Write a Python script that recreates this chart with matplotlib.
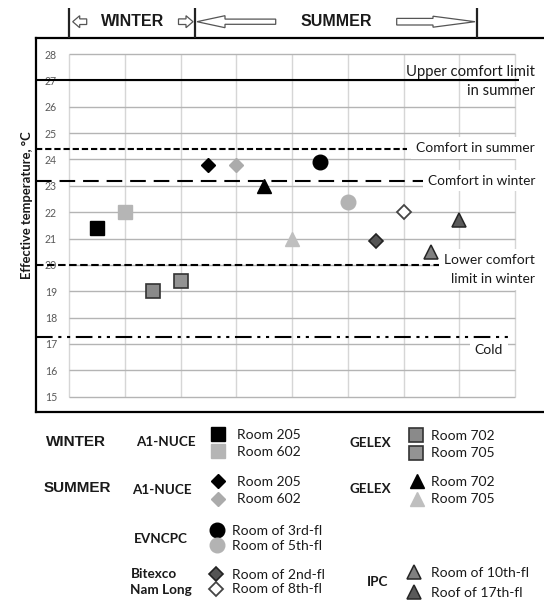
import matplotlib
matplotlib.use("Agg")
import matplotlib.pyplot as plt
from matplotlib.patches import Polygon

# ---------------- data ----------------
seasons = ["WINTER", "WINTER", "WINTER", "WINTER",
           "SUMMER", "SUMMER", "SUMMER", "SUMMER", "SUMMER", "SUMMER",
           "SUMMER", "SUMMER", "SUMMER", "SUMMER"]
buildings = ["A1-NUCE", "A1-NUCE", "GELEX", "GELEX",
             "A1-NUCE", "A1-NUCE", "GELEX", "GELEX", "EVNCPC", "EVNCPC",
             "Bitexco\nNam Long", "Bitexco\nNam Long", "IPC", "IPC"]
rooms = ["Room 205", "Room 602", "Room 702", "Room 705",
         "Room 205", "Room 602", "Room 702", "Room 705",
         "Room of 3rd-fl", "Room of 5th-fl", "Room of 2nd-fl", "Room of 8th-fl",
         "Room of 10th-fl", "Roof of 17th-fl"]
slot = [0.5, 1.0, 1.5, 2.0, 2.5, 3.0, 3.5, 4.0, 4.5, 5.0, 5.5, 6.0, 6.5, 7.0]
eff_temp = [21.4, 22.0, 19.0, 19.4, 23.8, 23.8, 23.0, 21.0, 23.9, 22.4,
            20.9, 22.0, 20.5, 21.7]

ref_labels = ["Upper comfort limit\nin summer", "Comfort in summer",
              "Comfort in winter", "Lower comfort\nlimit in winter", "Cold"]
ref_values = [27.0, 24.4, 23.2, 20.0, 17.25]

y_ticks = list(range(15, 29))
x_slots = list(range(0, 9))
season_headers = ["WINTER", "SUMMER"]
y_title = "Effective temperature, \u00b0C"

# ---------------- styles ----------------
plt.rcParams['font.family'] = ['Lato', 'DejaVu Sans']
point_styles = [
    dict(marker='s', ms=10, mfc='black', mec='black'),
    dict(marker='s', ms=10, mfc='#b5b5b5', mec='#b5b5b5'),
    dict(marker='s', ms=10, mfc='#8a8a8a', mec='#333333', mew=1.2),
    dict(marker='s', ms=10, mfc='#939393', mec='#333333', mew=1.2),
    dict(marker='D', ms=7, mfc='black', mec='black'),
    dict(marker='D', ms=7, mfc='#ababab', mec='#ababab'),
    dict(marker='^', ms=9.8, mfc='black', mec='black'),
    dict(marker='^', ms=9.8, mfc='#bfbfbf', mec='#bfbfbf'),
    dict(marker='o', ms=10.5, mfc='black', mec='black'),
    dict(marker='o', ms=10.5, mfc='#b3b3b3', mec='#b3b3b3'),
    dict(marker='D', ms=7, mfc='#555555', mec='#222222', mew=1.2),
    dict(marker='D', ms=7, mfc='white', mec='#444444', mew=1.3),
    dict(marker='^', ms=9.8, mfc='#808080', mec='#262626', mew=1.1),
    dict(marker='^', ms=9.8, mfc='#5a5a5a', mec='#262626', mew=1.1),
]
ref_styles = [
    dict(ls='-', lw=1.5, end=8.07, lab_x=8.36, ha='right', offs=[0.33, -0.40], box=False, fs=10.7),
    dict(ls=(0, (3.0, 1.4)), lw=1.5, end=6.06, lab_x=8.36, ha='right', offs=[0.03], box=True, fs=10),
    dict(ls=(0, (7.5, 3.8)), lw=1.5, end=6.47, lab_x=8.36, ha='right', offs=[0.0], box=True, fs=9.8),
    dict(ls=(0, (3.6, 1.7)), lw=1.5, end=6.69, lab_x=8.36, ha='right', offs=[0.18, -0.55], box=True, fs=10),
    dict(ls=(0, (8, 2.7, 1.5, 2.7, 1.5, 2.7)), lw=1.5, end=7.97, lab_x=7.53, ha='center', offs=[-0.48], box=True, fs=10),
]

# ---------------- layout (pixels) ----------------
W, H = 544, 603
X0PX, XUNIT = 69.0, 55.75
Y28PX, YUNIT = 54.0, 26.36
FL, FT, FB = 35.7, 37.5, 411.7

fig = plt.figure(figsize=(W / 100, H / 100), dpi=100)
ax = fig.add_axes([FL / W, 1 - FB / H, (W - FL) / W, (FB - FT) / H])
ax.set_xlim((FL - X0PX) / XUNIT, (W - X0PX) / XUNIT)
ax.set_ylim(28 - (FB - Y28PX) / YUNIT, 28 + (Y28PX - FT) / YUNIT)
for s in ['left', 'top', 'bottom']:
    ax.spines[s].set_linewidth(1.6)
    ax.spines[s].set_color('black')
ax.spines['right'].set_visible(False)
ax.set_xticks([])
ax.set_yticks(y_ticks)
ax.set_yticklabels([str(v) for v in y_ticks])
ax.tick_params(axis='y', length=0, pad=-15.3, labelsize=7.6, labelcolor='#595959')

# grid
ax.hlines(y_ticks, x_slots[0], x_slots[-1], colors='#b4b4b4', lw=1.0, zorder=1)
ax.vlines(x_slots, y_ticks[0], y_ticks[-1], colors='#d6d6d6', lw=1.0, zorder=0.9)

# reference lines and labels
xl = ax.get_xlim()[0]
for val, lab, st in zip(ref_values, ref_labels, ref_styles):
    ax.plot([xl, st['end']], [val, val], color='black', lw=st['lw'], ls=st['ls'],
            solid_capstyle='butt', dash_capstyle='butt', zorder=3)
    for line, off in zip(lab.split("\n"), st['offs']):
        kw = {}
        if st['box']:
            kw['bbox'] = dict(boxstyle='square,pad=0.35', fc='white', ec='none')
        ax.text(st['lab_x'], val + off, line, ha=st['ha'], va='center',
                fontsize=st['fs'], color='#1a1a1a', zorder=4, **kw)

# points
handles = []
for x, y, st in zip(slot, eff_temp, point_styles):
    h, = ax.plot([x], [y], ls='none', zorder=5, **st)
    handles.append(h)

# y label
ax.set_ylabel(y_title, fontsize=9.4, fontweight='bold', color='#1a1a1a')
ax.yaxis.set_label_coords((27 - FL) / (W - FL), (FB - 205) / (FB - FT))
ax.yaxis.label.set_va('center')

# ---------------- overlay (header + legend) ----------------
ov = fig.add_axes([0, 0, 1, 1])
ov.set_xlim(0, W)
ov.set_ylim(H, 0)
ov.axis('off')
ov.patch.set_alpha(0)

for bx in [69, 195, 477]:
    ov.plot([bx, bx], [8, FT], color='#222222', lw=1.6, solid_capstyle='butt')


def arrow(tip, tail, yc, hl, hh, bh):
    d = 1 if tail > tip else -1
    b = tip + d * hl
    pts = [(tip, yc), (b, yc - hh), (b, yc - bh), (tail, yc - bh),
           (tail, yc + bh), (b, yc + bh), (b, yc + hh)]
    ov.add_patch(Polygon(pts, closed=True, fc='white', ec='#555555', lw=0.9))


arrow(72.7, 86.7, 21.7, 7, 6, 2.8)
arrow(193, 178.5, 21.7, 7, 6, 2.8)
arrow(197, 275.7, 21.7, 28, 6, 2.6)
arrow(475, 396.7, 21.7, 42, 5.5, 3.3)
ov.text(133, 21.7, season_headers[0], ha='center', va='center', fontsize=11.5,
        fontweight='bold', family='Liberation Sans', color='#1a1a1a')
ov.text(336.7, 21.7, season_headers[1], ha='center', va='center', fontsize=11.5,
        fontweight='bold', family='Liberation Sans', color='#1a1a1a')

# legend
season_pos = {"WINTER": (46, 441.7), "SUMMER": (44.1, 488.3)}
for sname, (sx, sy) in season_pos.items():
    ov.text(sx, sy, sname, ha='left', va='center', fontsize=11, fontweight='bold',
            family='Liberation Sans', color='#1a1a1a')

group_layout = [
    (("WINTER", "A1-NUCE"), (135.7, 442.3), 218.3, 236.7, (434.0, 452.7)),
    (("WINTER", "GELEX"), (350, 443.3), 415.5, 431.3, (435.0, 454.0)),
    (("SUMMER", "A1-NUCE"), (132.3, 490), 218.3, 236.7, (481.7, 500.0)),
    (("SUMMER", "GELEX"), (350, 489), 416.7, 431.3, (481.7, 500.0)),
    (("SUMMER", "EVNCPC"), (134, 539), 217, 231.8, (530.0, 546.7)),
    (("SUMMER", "Bitexco\nNam Long"), (130.5, 582.2), 216, 232, (574.0, 590.0)),
    (("SUMMER", "IPC"), (367.3, 581.7), 414, 431.3, (572.7, 593.3)),
]
fs_leg = 10
fs_px = fs_leg * 100 / 72
hlen = 1.0
for (season, bld), (lx, ly), mx, tx, rows in group_layout:
    idx = [i for i in range(len(rooms)) if seasons[i] == season and buildings[i] == bld]
    lines = bld.split("\n")
    gap = 15.7
    for k, line in enumerate(lines):
        yy = ly + (k - (len(lines) - 1) / 2) * gap
        ov.text(lx, yy, line, ha='left', va='center', fontsize=9.7,
                fontweight='bold', color='#1a1a1a')
    left = mx - hlen * fs_px / 2
    tpad = (tx - left - hlen * fs_px) / fs_px
    lspace = ((rows[1] - rows[0]) - 13.2) / fs_px
    fig.legend([handles[i] for i in idx], [rooms[i] for i in idx],
               loc='center left', bbox_to_anchor=(left, (rows[0] + rows[1]) / 2),
               bbox_transform=ov.transData, frameon=False, handlelength=hlen,
               handletextpad=tpad, borderpad=0, borderaxespad=0,
               labelspacing=lspace, numpoints=1, prop=dict(family='Lato', size=fs_leg),
               labelcolor='#1a1a1a')

fig.savefig("out.png", dpi=100)
